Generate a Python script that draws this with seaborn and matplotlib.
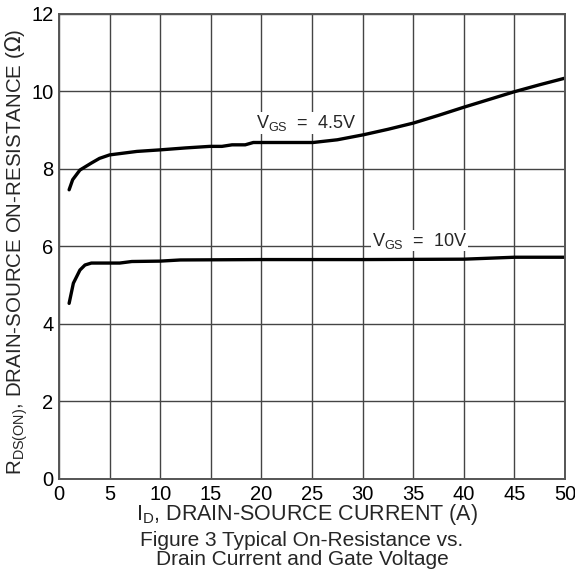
import matplotlib
matplotlib.use("Agg")
import matplotlib.pyplot as plt
import seaborn as sns
import pandas as pd

# curve readings
id_45 = [1.0, 1.35, 2.07, 3.2, 4.0, 5.0, 7.7, 10, 12.5, 14.9, 16.1, 17.1, 18.4, 19.2, 22, 25.1, 27.5, 30.1, 32.5, 35, 37.5, 40, 42.5, 45, 47.5, 50]
r_45 = [7.46, 7.72, 7.97, 8.15, 8.27, 8.36, 8.45, 8.49, 8.54, 8.58, 8.58, 8.62, 8.62, 8.68, 8.68, 8.68, 8.75, 8.88, 9.02, 9.18, 9.38, 9.59, 9.79, 9.99, 10.17, 10.34]

id_10 = [1.0, 1.42, 2.07, 2.57, 3.2, 4.5, 6.0, 7.2, 10, 12, 20, 30, 40, 45, 50]
r_10 = [4.53, 5.05, 5.39, 5.52, 5.57, 5.57, 5.57, 5.61, 5.62, 5.65, 5.66, 5.66, 5.67, 5.72, 5.72]

x_ticks = [0, 5, 10, 15, 20, 25, 30, 35, 40, 45, 50]
y_ticks = [0, 2, 4, 6, 8, 10, 12]

df = pd.concat([
    pd.DataFrame({"ID": id_45, "R": r_45, "VGS": "4.5V"}),
    pd.DataFrame({"ID": id_10, "R": r_10, "VGS": "10V"}),
])

sns.set_style("white")
plt.rcParams["font.family"] = ["Liberation Sans", "DejaVu Sans"]

fig = plt.figure(figsize=(5.75, 5.75), dpi=100)
ax = fig.add_axes([0.1026, 0.167, 0.880, 0.809])

sns.lineplot(data=df, x="ID", y="R", hue="VGS", palette=["black", "black"],
             linewidth=2.4, legend=False, ax=ax, estimator=None, sort=False)

ax.set_xlim(0, 50)
ax.set_ylim(0, 12)
ax.set_xticks(x_ticks)
ax.set_yticks(y_ticks)
ax.grid(True, color="#444444", linewidth=1.0)
for s in ax.spines.values():
    s.set_color("#555555")
    s.set_linewidth(1.4)
ax.tick_params(length=0, labelsize=14.5, pad=4, colors="black")

box = dict(facecolor="white", edgecolor="none", pad=0.5)
ax.text(19.5, 9.18, r"V$_{\mathregular{GS}}$  =  4.5V", fontsize=13, bbox=box, va="center")
ax.text(30.9, 6.15, r"V$_{\mathregular{GS}}$  =  10V", fontsize=13, bbox=box, va="center")

ax.set_xlabel(r"I$_{\mathregular{D}}$, DRAIN-SOURCE CURRENT (A)", fontsize=15.5)
ax.xaxis.set_label_coords(0.49, -0.05)
ax.set_ylabel(r"R$_{\mathregular{DS(ON)}}$, DRAIN-SOURCE ON-RESISTANCE ($\Omega$)", fontsize=14.8)
ax.yaxis.set_label_coords(-0.058, 0.488)
fig.text(0.525, 0.076, "Figure 3 Typical On-Resistance vs.\nDrain Current and Gate Voltage",
         ha="center", va="top", fontsize=15, linespacing=0.98)

fig.savefig("out.png", dpi=100)
